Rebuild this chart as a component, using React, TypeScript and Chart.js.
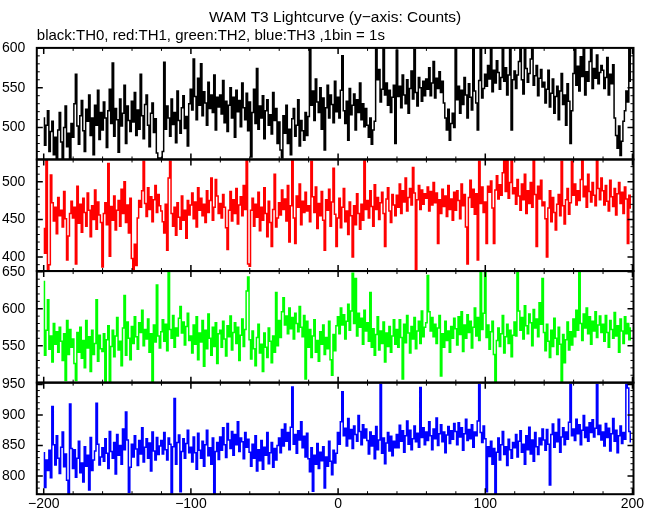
import React, { useEffect, useRef } from 'react';
import { Chart, registerables } from 'chart.js';

Chart.register(...registerables);

// bin times (1 bin = 1 s)
const binTimes: number[] = Array.from({ length: 400 }, (_, i) => -200 + i);

const th0: number[] = [
  512, 478, 503, 521, 470, 495, 508, 466, 488, 455, 497, 519, 482, 461, 500, 527, 476, 493, 458, 505,
  488, 530, 567, 502, 479, 515, 534, 496, 470, 523, 508, 541, 490, 512, 466, 528, 503, 547, 485, 519,
  497, 532, 512, 475, 521, 548, 505, 581, 489, 524, 510, 469, 536, 502, 518, 553, 480, 527, 509, 495,
  533, 507, 544, 490, 522, 498, 567, 515, 486, 529, 541, 503, 476, 518, 531, 494, 511, 468, 457, 462,
  455, 470, 582, 498, 527, 512, 489, 536, 504, 519, 481, 546, 509, 493, 525, 540, 499, 514, 477, 530,
  548, 522, 586, 539, 510, 562, 528, 580, 515, 545, 531, 503, 557, 524, 541, 519, 566, 497, 538, 526,
  541, 517, 559, 506, 533, 495, 528, 550, 512, 538, 488, 547, 520, 534, 501, 556, 525, 510, 543, 496,
  532, 463, 519, 548, 505, 574, 498, 527, 512, 540, 486, 521, 535, 503, 516, 492, 544, 509, 524, 480,
  507, 472, 462, 515, 493, 528, 480, 498, 466, 511, 524, 489, 503, 535, 477, 509, 496, 484, 519, 490,
  514, 602, 528, 546, 509, 561, 532, 519, 550, 498, 537, 472, 525, 553, 512, 541, 529, 506, 558, 520,
  538, 512, 547, 590, 521, 505, 533, 484, 549, 516, 528, 542, 497, 535, 519, 556, 510, 530, 501, 524,
  503, 488, 512, 479, 497, 508, 601, 560, 573, 532, 548, 599, 541, 556, 528, 547, 519, 538, 553, 480,
  597, 539, 552, 525, 566, 541, 530, 560, 518, 549, 571, 536, 598, 544, 527, 563, 550, 533, 558, 540,
  561, 548, 575, 540, 556, 583, 537, 562, 549, 570, 544, 558, 531, 512, 497, 523, 484, 505, 518, 500,
  601, 535, 552, 518, 547, 529, 563, 541, 512, 555, 538, 522, 600, 546, 531, 497, 559, 600, 537, 549,
  567, 552, 578, 561, 601, 545, 572, 556, 584, 569, 548, 563, 603, 558, 575, 541, 566, 602, 497, 560,
  571, 549, 566, 583, 604, 560, 542, 601, 574, 557, 568, 586, 600, 553, 565, 578, 540, 562, 573, 551,
  557, 531, 548, 572, 526, 543, 561, 518, 539, 552, 510, 546, 568, 529, 541, 503, 555, 533, 480, 521,
  568, 601, 553, 577, 546, 589, 564, 602, 541, 570, 558, 583, 600, 549, 574, 562, 591, 555, 569, 578,
  572, 549, 563, 588, 541, 567, 555, 579, 512, 490, 474, 502, 465, 483, 508, 521, 546, 532, 599, 558,
];

const th1: number[] = [
  438, 405, 535, 384, 390, 509, 472, 448, 466, 431, 479, 455, 462, 440, 487, 451, 396, 428, 458, 474,
  452, 466, 391, 494, 445, 470, 433, 478, 459, 441, 485, 462, 427, 468, 450, 489, 437, 473, 456, 446,
  387, 458, 472, 443, 524, 401, 467, 449, 481, 436, 462, 475, 441, 490, 458, 500, 446, 469, 432, 478,
  398, 382, 417, 389, 452, 475, 466, 488, 527, 471, 454, 492, 463, 480, 447, 476, 495, 459, 483, 468,
  461, 447, 432, 470, 409, 505, 527, 458, 441, 466, 429, 472, 453, 437, 481, 449, 462, 425, 475, 456,
  469, 485, 451, 473, 440, 492, 462, 478, 455, 470, 446, 488, 459, 475, 505, 449, 466, 503, 481, 458,
  471, 452, 483, 466, 439, 410, 462, 487, 448, 476, 458, 491, 444, 469, 480, 455, 495, 463, 529, 391,
  388, 462, 478, 441, 470, 453, 486, 435, 466, 449, 492, 458, 427, 474, 446, 414, 463, 510, 440, 452,
  472, 456, 489, 463, 477, 448, 495, 420, 468, 529, 452, 418, 481, 466, 497, 443, 474, 459, 486, 461,
  468, 447, 527, 480, 459, 493, 438, 471, 455, 487, 449, 409, 476, 462, 490, 441, 473, 518, 457, 414,
  452, 478, 439, 466, 491, 447, 461, 430, 473, 455, 400, 468, 443, 484, 458, 437, 470, 449, 529, 463,
  475, 452, 488, 467, 441, 496, 463, 479, 450, 472, 486, 458, 414, 477, 492, 461, 446, 483, 469, 455,
  482, 466, 497, 458, 488, 473, 505, 461, 479, 491, 469, 519, 485, 382, 476, 495, 463, 489, 470, 484,
  478, 493, 461, 487, 469, 499, 472, 485, 418, 476, 458, 490, 467, 481, 454, 495, 463, 477, 449, 486,
  462, 488, 475, 451, 497, 468, 483, 440, 391, 479, 502, 466, 490, 457, 484, 396, 527, 471, 493, 459,
  473, 418, 494, 486, 501, 465, 418, 489, 508, 477, 496, 482, 512, 529, 487, 530, 478, 499, 529, 484,
  492, 470, 503, 481, 462, 497, 476, 510, 458, 488, 471, 499, 466, 529, 483, 414, 494, 477, 502, 468,
  473, 451, 400, 465, 488, 447, 479, 459, 436, 470, 483, 455, 527, 468, 444, 476, 491, 457, 472, 527,
  482, 497, 469, 488, 475, 503, 529, 480, 494, 466, 510, 487, 473, 499, 482, 468, 529, 491, 476, 505,
  488, 469, 495, 474, 461, 502, 480, 467, 491, 456, 484, 499, 471, 486, 458, 493, 477, 418, 482, 465,
];

const th2: number[] = [
  637, 537, 571, 612, 545, 563, 528, 580, 552, 569, 541, 575, 556, 530, 566, 503, 584, 538, 572, 548,
  559, 526, 503, 568, 541, 575, 533, 557, 520, 584, 547, 562, 515, 571, 538, 553, 612, 529, 564, 546,
  542, 566, 501, 558, 577, 502, 549, 571, 535, 563, 588, 544, 556, 523, 574, 618, 537, 582, 560, 531,
  576, 553, 589, 562, 545, 581, 568, 598, 550, 572, 559, 586, 541, 566, 501, 578, 555, 632, 563, 547,
  569, 585, 556, 579, 543, 650, 572, 560, 591, 548, 574, 563, 587, 603, 567, 582, 551, 576, 594, 557,
  563, 540, 578, 552, 589, 531, 567, 555, 584, 522, 571, 546, 593, 560, 537, 575, 549, 581, 526, 566,
  571, 548, 583, 559, 536, 577, 562, 590, 544, 568, 581, 553, 575, 530, 564, 586, 549, 572, 624, 643,
  558, 532, 570, 546, 523, 561, 579, 540, 552, 515, 567, 548, 534, 574, 556, 527, 563, 541, 622, 550,
  584, 561, 596, 615, 578, 590, 566, 601, 573, 588, 559, 594, 580, 569, 603, 575, 562, 591, 505, 583,
  548, 572, 534, 563, 585, 541, 557, 529, 569, 552, 578, 538, 561, 546, 583, 531, 510, 565, 543, 577,
  589, 566, 601, 578, 592, 559, 583, 606, 571, 597, 648, 580, 641, 563, 594, 575, 587, 552, 598, 570,
  581, 556, 622, 548, 573, 537, 565, 589, 544, 570, 553, 582, 528, 567, 549, 576, 541, 563, 585, 552,
  572, 548, 585, 561, 505, 579, 554, 591, 567, 540, 576, 559, 588, 546, 570, 583, 553, 597, 562, 575,
  581, 645, 596, 570, 588, 562, 579, 553, 574, 591, 509, 566, 548, 583, 557, 570, 541, 576, 560, 587,
  573, 551, 589, 565, 596, 542, 578, 560, 592, 568, 583, 547, 575, 601, 563, 588, 557, 650, 572, 594,
  650, 561, 578, 545, 569, 583, 538, 501, 557, 574, 549, 566, 591, 540, 562, 579, 553, 571, 535, 564,
  582, 563, 650, 597, 571, 588, 559, 604, 577, 566, 593, 581, 550, 599, 574, 586, 562, 608, 579, 641,
  568, 543, 579, 556, 534, 571, 549, 587, 560, 538, 575, 552, 501, 565, 527, 558, 582, 544, 569, 551,
  586, 562, 598, 571, 650, 580, 557, 593, 574, 601, 566, 589, 552, 583, 570, 596, 561, 578, 590, 568,
  579, 556, 591, 568, 548, 584, 572, 560, 595, 563, 577, 541, 586, 570, 553, 589, 566, 580, 558, 574,
];

const th3: number[] = [
  838, 781, 826, 809, 842, 797, 914, 851, 818, 866, 829, 804, 847, 872, 815, 836, 793, 770, 918, 845,
  812, 843, 798, 829, 857, 805, 821, 790, 848, 816, 834, 777, 863, 809, 826, 841, 919, 852, 818, 831,
  846, 824, 861, 837, 812, 873, 840, 829, 855, 803, 868, 834, 850, 819, 877, 843, 905, 859, 773, 814,
  852, 831, 866, 844, 817, 858, 836, 879, 823, 847, 861, 829, 854, 808, 872, 841, 826, 863, 835, 849,
  858, 836, 871, 843, 826, 862, 852, 772, 848, 927, 819, 855, 867, 774, 840, 861, 829, 853, 875, 838,
  847, 823, 864, 838, 811, 870, 842, 829, 857, 816, 851, 875, 833, 846, 819, 862, 770, 840, 855, 827,
  864, 842, 879, 851, 830, 886, 859, 845, 873, 834, 868, 851, 889, 840, 862, 856, 828, 871, 847, 860,
  839, 816, 852, 829, 866, 808, 843, 825, 858, 811, 847, 834, 871, 820, 838, 855, 814, 845, 826, 850,
  862, 838, 876, 849, 885, 857, 871, 843, 880, 946, 852, 868, 837, 874, 859, 889, 846, 865, 831, 870,
  828, 807, 846, 775, 834, 819, 853, 812, 839, 825, 848, 780, 831, 816, 857, 824, 802, 842, 821, 837,
  871, 852, 889, 938, 866, 878, 849, 894, 861, 876, 845, 882, 868, 857, 899, 873, 851, 884, 862, 877,
  858, 836, 872, 849, 866, 828, 881, 843, 859, 950, 837, 862, 820, 854, 871, 841, 865, 833, 857, 846,
  868, 846, 883, 857, 874, 839, 866, 890, 852, 875, 843, 861, 882, 856, 870, 847, 945, 863, 879, 851,
  872, 858, 889, 866, 843, 877, 861, 895, 850, 869, 884, 856, 872, 838, 867, 881, 853, 874, 860, 886,
  873, 851, 887, 864, 879, 842, 869, 893, 858, 876, 861, 884, 847, 872, 866, 890, 950, 871, 855, 882,
  861, 774, 848, 832, 857, 819, 845, 770, 839, 862, 826, 851, 873, 835, 848, 817, 860, 843, 829, 855,
  846, 868, 831, 857, 874, 839, 852, 819, 866, 843, 880, 836, 859, 824, 871, 848, 835, 862, 851, 877,
  859, 842, 876, 852, 785, 868, 885, 847, 871, 856, 893, 839, 864, 879, 851, 872, 860, 888, 950, 866,
  877, 858, 893, 869, 884, 851, 875, 899, 863, 880, 857, 887, 871, 892, 864, 878, 950, 868, 883, 859,
  872, 849, 886, 863, 878, 841, 869, 894, 857, 875, 838, 866, 882, 853, 871, 860, 950, 944, 873, 856,
];

const seriesColors: string[] = ['#000000', '#ff0000', '#00ff00', '#0000ff'];
const seriesNames: string[] = ['TH0', 'TH1', 'TH2', 'TH3'];
const xTickValues: number[] = [-200, -100, 0, 100, 200];
const yTickValues: number[][] = [
  [500, 550, 600],
  [400, 450, 500],
  [550, 600, 650],
  [800, 850, 900, 950],
];
const yRanges: number[][] = [
  [460, 600],
  [381.5, 529.5],
  [500, 651],
  [770, 953],
];
const xRange: number[] = [-204.7, 200.7];

const titleText = 'WAM T3 Lightcurve (y\u2212axis: Counts)';
const subtitleText = 'black:TH0, red:TH1, green:TH2, blue:TH3 ,1bin = 1s';

const FONT = "'Liberation Sans', Arial, Helvetica, sans-serif";
const yIds = ['y0', 'y1', 'y2', 'y3'];

const fmt = (v: number) => (v < 0 ? '\u2212' + Math.abs(v) : String(v));

const framePlugin = {
  id: 'panelFrame',
  afterDatasetsDraw(chart: any) {
    const ctx = chart.ctx as CanvasRenderingContext2D;
    const xs = chart.scales.x;
    ctx.save();
    ctx.strokeStyle = '#000';
    for (const id of yIds) {
      const ys = chart.scales[id];
      const l = xs.left;
      const r = xs.right;
      const t = ys.top;
      const b = ys.bottom;
      for (let v = Math.ceil(ys.min / 10) * 10; v <= ys.max; v += 10) {
        const p = ys.getPixelForValue(v);
        const major = v % 50 === 0;
        const len = major ? 6 : 3;
        ctx.lineWidth = major ? 1.5 : 1;
        ctx.beginPath();
        ctx.moveTo(l, p);
        ctx.lineTo(l + len, p);
        ctx.moveTo(r, p);
        ctx.lineTo(r - len, p);
        ctx.stroke();
      }
      for (let v = -200; v <= 200; v += 20) {
        const p = xs.getPixelForValue(v);
        const major = v % 100 === 0;
        const len = major ? 6 : 3;
        ctx.lineWidth = major ? 1.5 : 1;
        ctx.beginPath();
        ctx.moveTo(p, t);
        ctx.lineTo(p, t + len);
        ctx.moveTo(p, b);
        ctx.lineTo(p, b - len);
        ctx.stroke();
      }
      ctx.lineWidth = 2;
      ctx.strokeRect(l, t, r - l, b - t);
    }
    ctx.restore();
  },
};

export default function App() {
  const ref = useRef<HTMLCanvasElement | null>(null);

  useEffect(() => {
    if (!ref.current) return;
    const allSeries = [th0, th1, th2, th3];
    const datasets = allSeries.map((vals, k) => ({
      label: seriesNames[k],
      data: vals.map((y, i) => ({ x: binTimes[i], y })),
      yAxisID: yIds[k],
      borderColor: seriesColors[k],
      backgroundColor: seriesColors[k],
      borderWidth: 1.5,
      pointRadius: 0,
      stepped: 'middle' as const,
      fill: false,
    }));

    const tickFont = { family: FONT, size: 14 };
    const scales: any = {
      x: {
        type: 'linear',
        position: 'bottom',
        min: xRange[0],
        max: xRange[1],
        grid: { display: false, drawTicks: false },
        border: { display: false },
        afterBuildTicks: (s: any) => {
          s.ticks = xTickValues.map((value) => ({ value }));
        },
        ticks: {
          autoSkip: false,
          maxRotation: 0,
          padding: 2,
          color: '#000',
          font: tickFont,
          callback: (v: any) => fmt(Number(v)),
        },
      },
    };
    yIds.forEach((id, k) => {
      scales[id] = {
        type: 'linear',
        position: 'left',
        stack: 'panels',
        stackWeight: 1,
        weight: 4 - k,
        min: yRanges[k][0],
        max: yRanges[k][1],
        offset: false,
        grid: { display: false, drawTicks: false },
        border: { display: false },
        afterBuildTicks: (s: any) => {
          s.ticks = yTickValues[k].map((value) => ({ value }));
        },
        afterFit: (s: any) => {
          s.width = 35.8;
        },
        ticks: {
          autoSkip: false,
          padding: 11.5,
          color: '#000',
          font: tickFont,
          callback: (v: any) => fmt(Number(v)),
        },
      };
    });

    const chart = new Chart(ref.current, {
      type: 'line',
      data: { datasets },
      options: {
        animation: false,
        responsive: false,
        events: [],
        layout: { padding: { left: 1, right: 26.5, top: 0, bottom: 0 } },
        plugins: {
          legend: { display: false },
          tooltip: { enabled: false },
          title: {
            display: true,
            text: titleText,
            fullSize: false,
            align: 'center',
            color: '#000',
            font: { family: FONT, size: 15.5, weight: 'normal' },
            padding: { top: 8, bottom: 0 },
          },
          subtitle: {
            display: true,
            text: subtitleText,
            fullSize: false,
            align: 'start',
            color: '#000',
            font: { family: FONT, size: 15, weight: 'normal' },
            padding: { top: 0, bottom: 3.3 },
          },
        },
        scales,
      } as any,
      plugins: [framePlugin],
    });
    return () => chart.destroy();
  }, []);

  return (
    <div style={{ position: 'absolute', left: 0, top: 0, width: 660, height: 515, background: '#fff' }}>
      <canvas ref={ref} width={660} height={515} />
    </div>
  );
}
